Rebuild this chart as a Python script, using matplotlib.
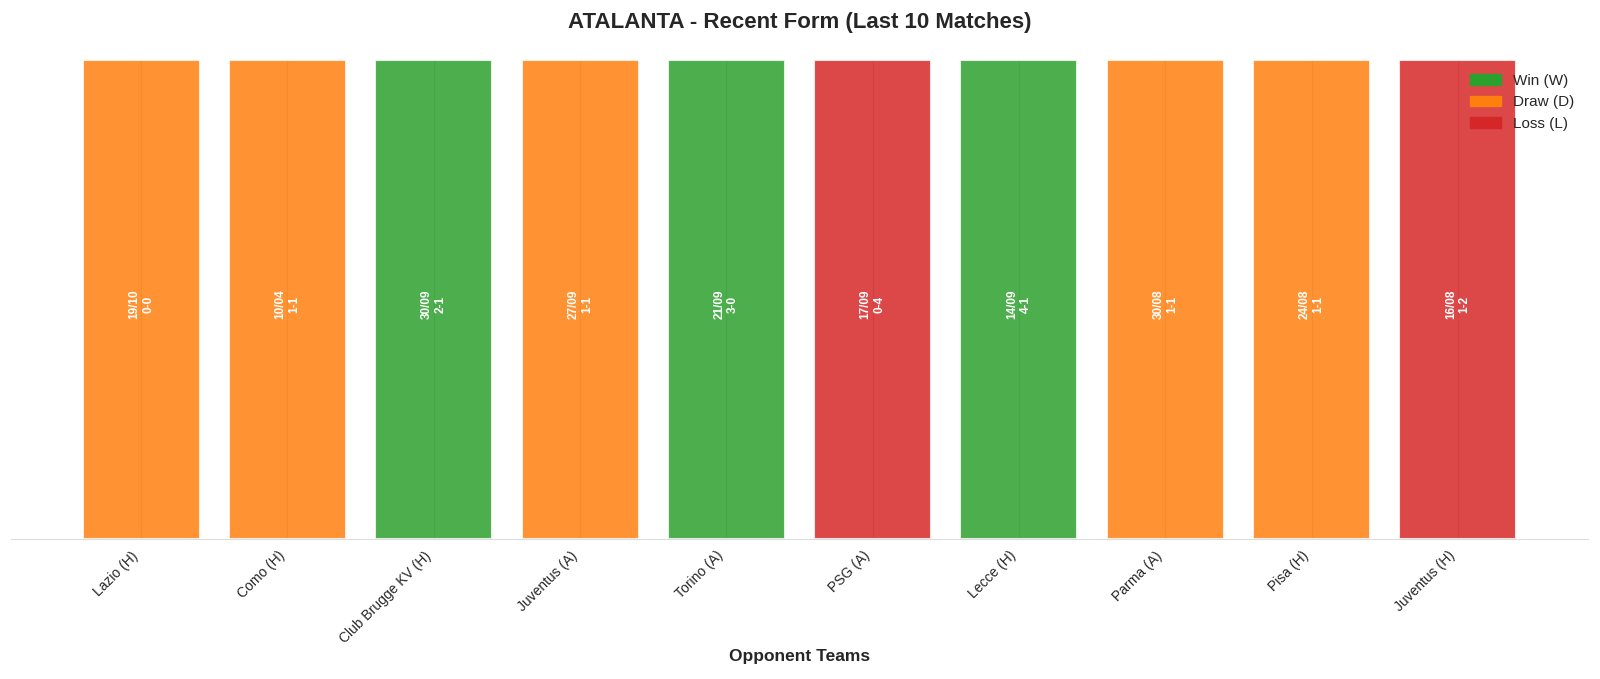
import matplotlib.pyplot as plt
import seaborn as sns
from matplotlib.patches import Patch

sns.set_style("whitegrid")
plt.rcParams['font.family'] = ['Liberation Sans', 'DejaVu Sans']

# match data (most recent first)
opponents = ['Lazio (H)', 'Como (H)', 'Club Brugge KV (H)', 'Juventus (A)', 'Torino (A)',
             'PSG (A)', 'Lecce (H)', 'Parma (A)', 'Pisa (H)', 'Juventus (H)']
dates = ['19/10', '10/04', '30/09', '27/09', '21/09', '17/09', '14/09', '30/08', '24/08', '16/08']
scores = ['0-0', '1-1', '2-1', '1-1', '3-0', '0-4', '4-1', '1-1', '1-1', '1-2']
results = ['D', 'D', 'W', 'D', 'W', 'L', 'W', 'D', 'D', 'L']

colors = {'W': '#2ca02c', 'D': '#ff7f0e', 'L': '#d62728'}

fig, ax = plt.subplots(figsize=(16, 6.79), dpi=100)
fig.subplots_adjust(left=11/1600, right=1588/1600, top=1-60/679, bottom=1-539/679)

x = range(len(opponents))
bars = ax.bar(x, [1]*len(opponents), color=[colors[r] for r in results],
              alpha=0.85, edgecolor='white', linewidth=1.5)

for i, b in enumerate(bars):
    ax.text(b.get_x() + b.get_width()/2, 0.49, f'{dates[i]}\n{scores[i]}',
            ha='center', va='center', rotation=90, color='white',
            fontsize=8.5, fontweight='bold')

ax.set_ylim(0, 1)
ax.set_xticks(list(x))
ax.set_xticklabels(opponents, rotation=45, ha='right', fontsize=10)
ax.set_yticks([])
ax.set_xlabel('Opponent Teams', fontsize=12.5, fontweight='bold')
ax.xaxis.set_label_coords(0.5, -0.23)
ax.set_title('ATALANTA - Recent Form (Last 10 Matches)', fontsize=16, fontweight='bold', pad=23)

for s in ['top', 'right', 'left']:
    ax.spines[s].set_visible(False)
ax.spines['bottom'].set_color('#dddddd')

handles = [Patch(color=colors['W'], label='Win (W)'),
           Patch(color=colors['D'], label='Draw (D)'),
           Patch(color=colors['L'], label='Loss (L)')]
ax.legend(handles=handles, loc='upper right', fontsize=11, frameon=False)

fig.savefig('out.png', dpi=100)
